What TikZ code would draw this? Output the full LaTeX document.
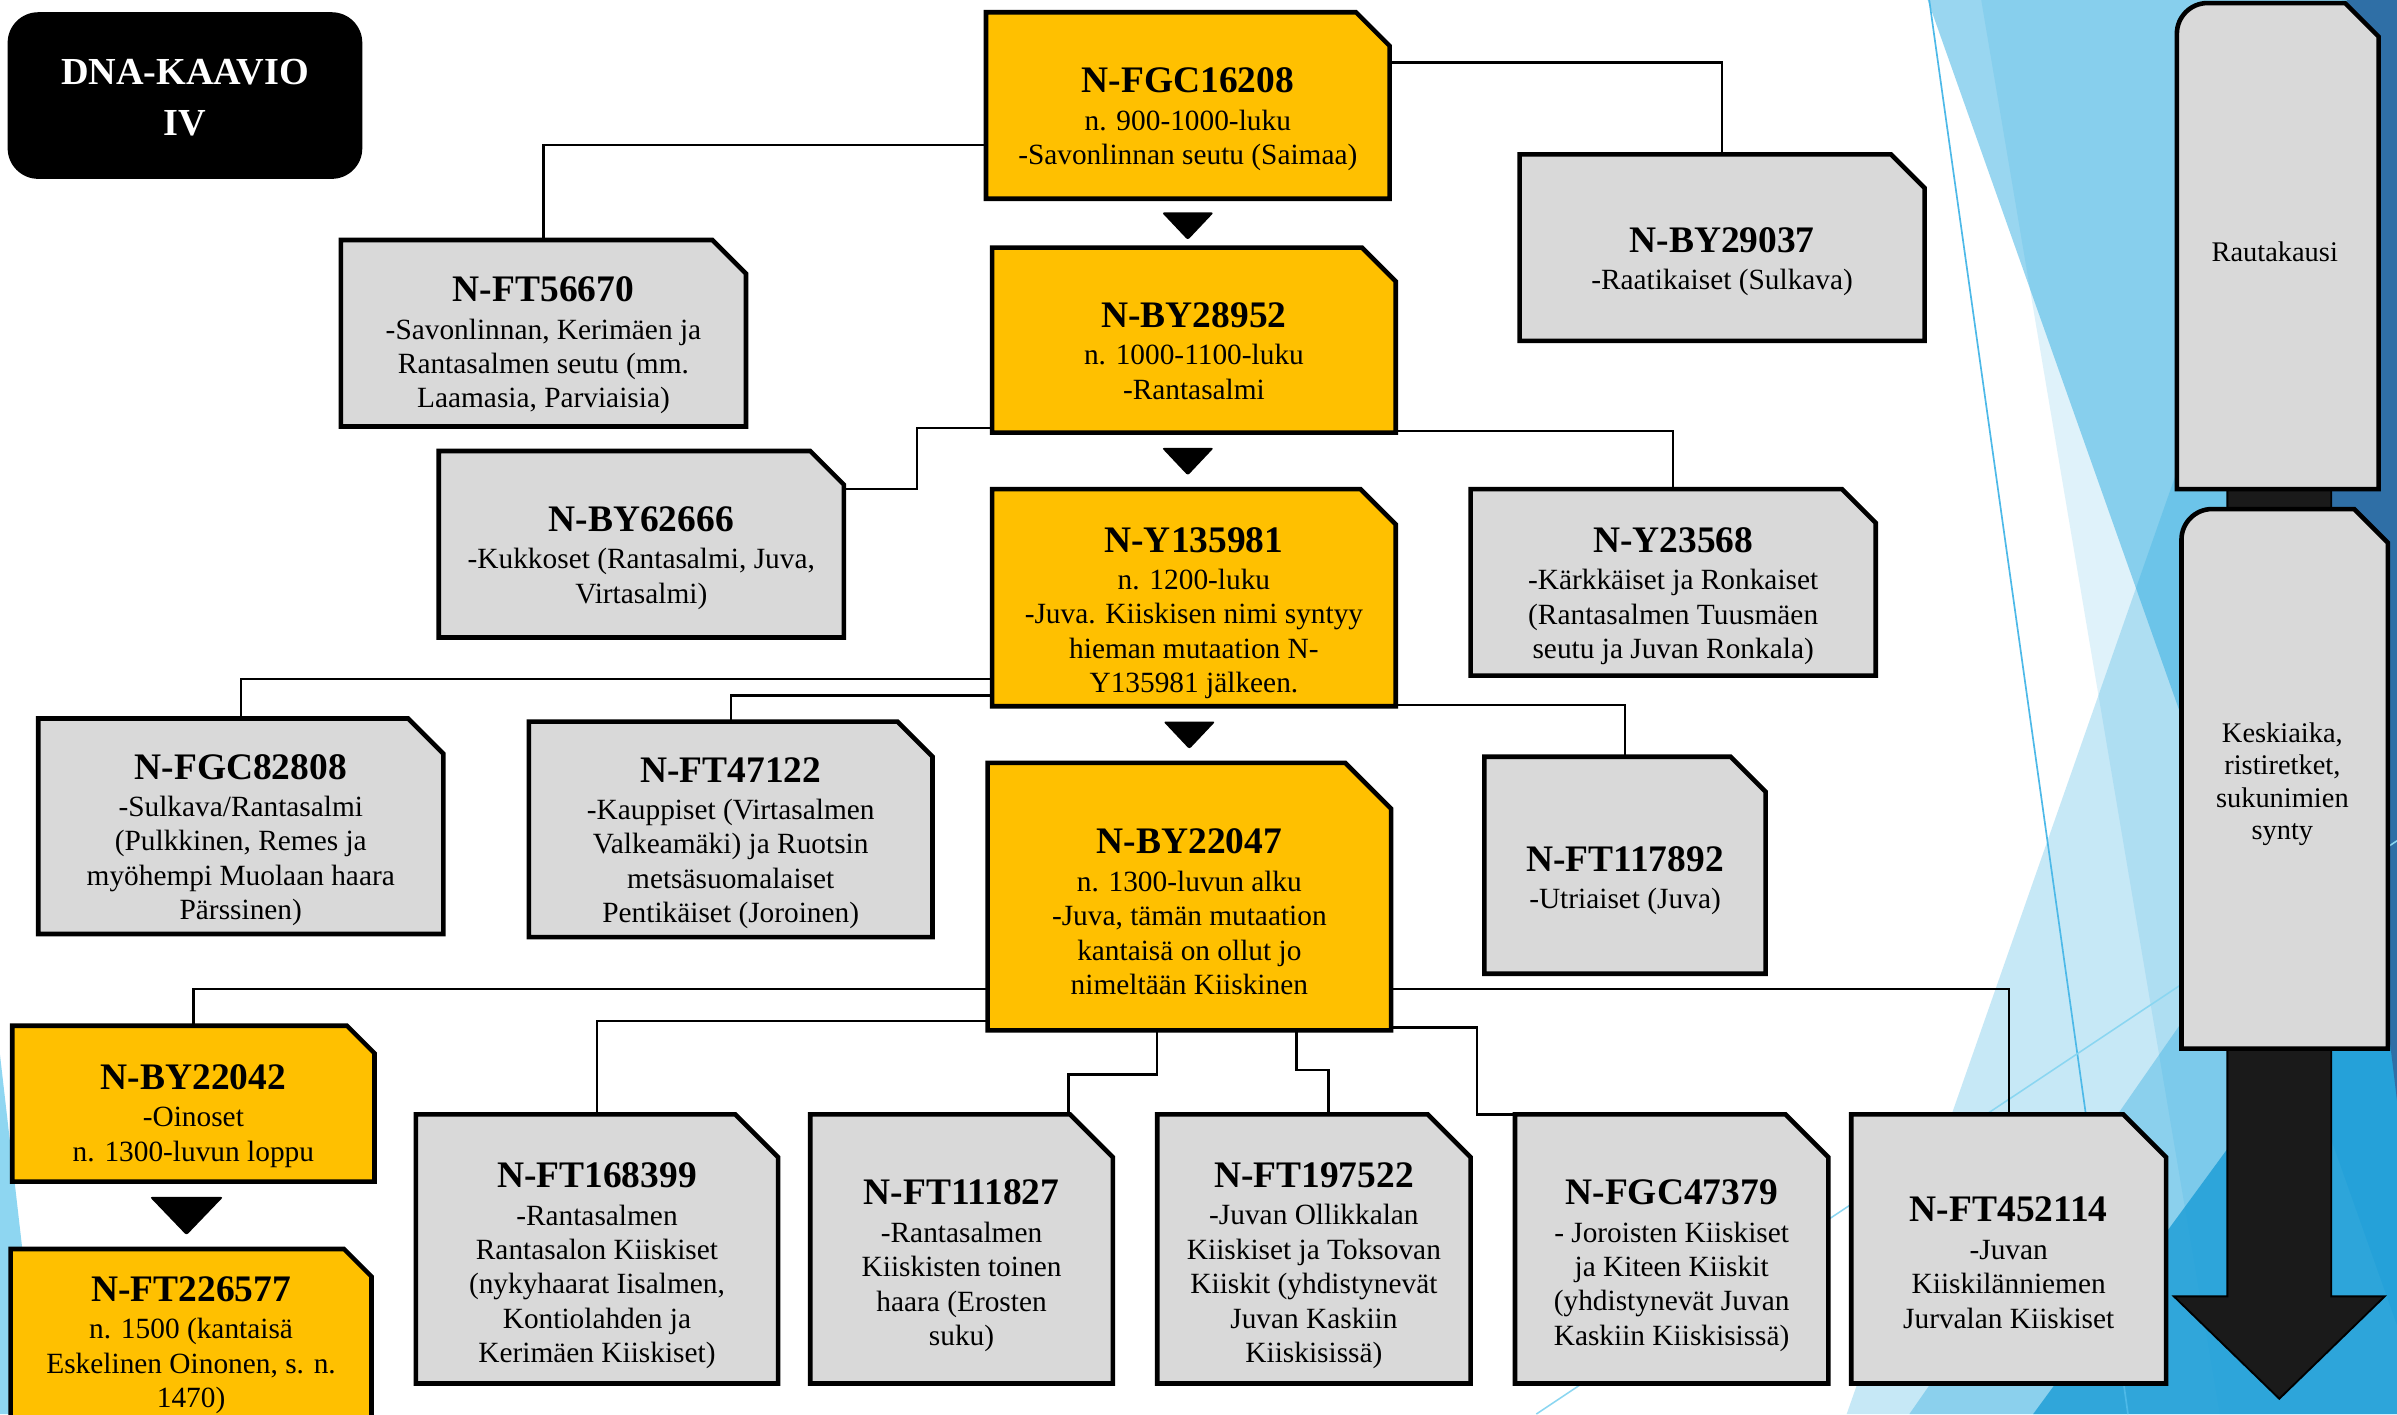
\documentclass[tikz,border=0pt]{standalone}
\usepackage{fontspec}
\setmainfont{Liberation Serif}
\definecolor{yel}{HTML}{FFC000}
\definecolor{greyc}{HTML}{D9D9D9}
\definecolor{arrowc}{HTML}{1A1A1A}
\definecolor{facet}{HTML}{1FA5DE}
\definecolor{facetdeep}{HTML}{1A9CD6}
\definecolor{navy}{HTML}{2F6FA6}
\definecolor{edgeblue}{HTML}{8ED6F1}
\definecolor{thinA}{HTML}{4DB9E8}
\definecolor{thinB}{HTML}{8AD6F1}
\newcommand\idt{\fontsize{24.5}{22.5}\selectfont\bfseries}
% snipped-corner box: name, fill, x1, y1, x2, y2, cut, text, text shift
\newcommand\snipbox[9]{%
  \filldraw[boxline, fill=#2] (#3,#4) -- ({#5-#7},#4) -- (#5,{#4+#7}) -- (#5,#6) -- (#3,#6) -- cycle;
  \node[anchorbox, minimum width={#5-#3}, minimum height={#6-#4}] (#1) at ({(#3+#5)/2},{(#4+#6)/2}) {};
  \node[boxtext] (#1t) at ({(#3+#5)/2},{(#4+#6)/2+#9}) {#8};
}
% era box: rounded top-left, snipped top-right
\newcommand\erabox[5]{%
  \filldraw[boxline, fill=greyc] (#2,#5) -- (#2,{#3+20}) .. controls (#2,{#3+9}) and ({#2+9},#3) .. ({#2+20},#3)
    -- ({#4-22},#3) -- (#4,{#3+22}) -- (#4,#5) -- cycle;
  \node[anchorbox, minimum width={#4-#2}, minimum height={#5-#3}] (#1) at ({(#2+#4)/2},{(#3+#5)/2}) {};
}
\tikzset{
  boxline/.style={draw=black, line width=3pt, line join=miter},
  link/.style={draw=black, line width=1.6pt},
  boxtext/.style={align=center, inner sep=0pt, font=\fontsize{19.2}{22.5}\selectfont},
  eratext/.style={align=center, inner sep=0pt, font=\fontsize{18.6}{21}\selectfont},
  anchorbox/.style={inner sep=0pt, outer sep=0pt, draw=none},
  downtri/.style={fill=black, rounded corners=1.5pt},
}
\begin{document}
\begin{tikzpicture}[x=1pt,y=-1pt]
\useasboundingbox (0,0) rectangle (1568,925);
\clip (0,0) rectangle (1568,925);
\fill[white] (0,0) rectangle (1568,925);

% background facets
\fill[facet, fill opacity=0.45] (1261,0) -- (1568,0) -- (1568,867) -- cycle;
\fill[facet, fill opacity=0.14] (1296,0) -- (1568,0) -- (1568,925) -- (1452,925) -- cycle;
\fill[facet, fill opacity=0.25] (1208,925) -- (1532,0) -- (1568,0) -- (1568,925) -- cycle;
\fill[facet, fill opacity=0.35] (1249,925) -- (1568,466) -- (1568,925) -- cycle;
\fill[facetdeep, fill opacity=0.8] (1330,925) -- (1568,600) -- (1568,925) -- cycle;
\fill[navy] (1535,0) -- (1568,0) -- (1568,720) -- (1522,340) -- cycle;
\fill[edgeblue] (0,690) -- (27,925) -- (0,925) -- cycle;
\draw[thinA, line width=1.1pt] (1262,0) -- (1392,925);
\draw[thinB, line width=1pt] (1005,925) -- (1568,550);

% title
\node[fill=black, rounded corners=20pt, minimum width=232, minimum height=109, inner sep=0pt] (ttl) at (121,62.5) {};
\node[text=white, align=center, inner sep=0pt, font=\fontsize{25}{33}\selectfont\bfseries] (ttlt) at (121,64) {DNA-KAAVIO\\IV};

% main line
\snipbox{fgc162}{yel}{645}{8}{909}{130}{22}{{\idt N-FGC16208}\\[2pt]n. 900-1000-luku\\-Savonlinnan seutu (Saimaa)}{9}
\snipbox{by289}{yel}{649}{162}{913}{283}{22}{{\idt N-BY28952}\\[2pt]n. 1000-1100-luku\\-Rantasalmi}{7}
\snipbox{y135}{yel}{649}{320}{913}{462}{23}{{\idt N-Y135981}\\[2pt]n. 1200-luku\\-Juva. Kiiskisen nimi syntyy\\hieman mutaation N-\\Y135981 jälkeen.}{10}
\snipbox{by220}{yel}{646}{499}{910}{674}{30}{{\idt N-BY22047}\\[2pt]n. 1300-luvun alku\\-Juva, tämän mutaation\\kantaisä on ollut jo\\nimeltään Kiiskinen}{10}
\snipbox{by2042}{yel}{8}{671}{245}{773}{18}{{\idt N-BY22042}\\[2pt]-Oinoset\\n. 1300-luvun loppu}{8}
\snipbox{ft2265}{yel}{7}{817}{243}{931}{18}{{\idt N-FT226577}\\[2pt]n. 1500 (kantaisä\\Eskelinen Oinonen, s. n.\\1470)}{6}

% side branches
\snipbox{ft566}{greyc}{223}{157}{488}{279}{22}{{\idt N-FT56670}\\[2pt]-Savonlinnan, Kerimäen ja\\Rantasalmen seutu (mm.\\Laamasia, Parviaisia)}{8}
\snipbox{by290}{greyc}{994}{101}{1259}{223}{22}{{\idt N-BY29037}\\[2pt]-Raatikaiset (Sulkava)}{9}
\snipbox{by626}{greyc}{287}{295}{552}{417}{22}{{\idt N-BY62666}\\[2pt]-Kukkoset (Rantasalmi, Juva,\\Virtasalmi)}{9}
\snipbox{y235}{greyc}{962}{320}{1227}{442}{22}{{\idt N-Y23568}\\[2pt]-Kärkkäiset ja Ronkaiset\\(Rantasalmen Tuusmäen\\seutu ja Juvan Ronkala)}{9}
\snipbox{fgc828}{greyc}{25}{470}{290}{611}{23}{{\idt N-FGC82808}\\[2pt]-Sulkava/Rantasalmi\\(Pulkkinen, Remes ja\\myöhempi Muolaan haara\\Pärssinen)}{9}
\snipbox{ft471}{greyc}{346}{472}{610}{613}{23}{{\idt N-FT47122}\\[2pt]-Kauppiset (Virtasalmen\\Valkeamäki) ja Ruotsin\\metsäsuomalaiset\\Pentikäiset (Joroinen)}{9}
\snipbox{ft117}{greyc}{971}{495}{1155}{637}{23}{{\idt N-FT117892}\\[2pt]-Utriaiset (Juva)}{10}
\snipbox{ft168}{greyc}{272}{729}{509}{905}{28}{{\idt N-FT168399}\\[2pt]-Rantasalmen\\Rantasalon Kiiskiset\\(nykyhaarat Iisalmen,\\Kontiolahden ja\\Kerimäen Kiiskiset)}{11}
\snipbox{ft111}{greyc}{530}{729}{728}{905}{28}{{\idt N-FT111827}\\[2pt]-Rantasalmen\\Kiiskisten toinen\\haara (Erosten\\suku)}{11}
\snipbox{ft197}{greyc}{757}{729}{962}{905}{28}{{\idt N-FT197522}\\[2pt]-Juvan Ollikkalan\\Kiiskiset ja Toksovan\\Kiiskit (yhdistynevät\\Juvan Kaskiin\\Kiiskisissä)}{11}
\snipbox{fgc473}{greyc}{991}{729}{1196}{905}{28}{{\idt N-FGC47379}\\[2pt]- Joroisten Kiiskiset\\ja Kiteen Kiiskit\\(yhdistynevät Juvan\\Kaskiin Kiiskisissä)}{11}
\snipbox{ft452}{greyc}{1211}{729}{1417}{905}{28}{{\idt N-FT452114}\\[2pt]-Juvan\\Kiiskilänniemen\\Jurvalan Kiiskiset}{9}

% connectors
\draw[link] (fgc162.west |- 0,95) -| (ft566.north);
\draw[link] (fgc162.east |- 0,41) -| (by290.north);
\draw[link] (by289.west |- 0,280) -| (600,320) -- (by626.east |- 0,320);
\draw[link] (by289.east |- 0,282) -| (y235.north);
\draw[link] (y135.west |- 0,444) -| (fgc828.north);
\draw[link] (y135.west |- 0,455) -| (ft471.north);
\draw[link] (y135.east |- 0,461) -| (ft117.north);
\draw[link] (by220.west |- 0,647) -| (by2042.north);
\draw[link] (by220.west |- 0,668) -| (ft168.north);
\draw[link] (by220.south -| 757,0) -- (757,703) -| (ft111.north -| 699,0);
\draw[link] (by220.south -| 848,0) -- (848,700) -| (ft197.north -| 869,0);
\draw[link] (by220.east |- 0,672) -| (966,729) -- (fgc473.north west);
\draw[link] (by220.east |- 0,647) -| (ft452.north);

% descent markers
\fill[downtri] (760,139) -- (794,139) -- (777,157) -- cycle;
\fill[downtri] (760,293) -- (794,293) -- (777,311) -- cycle;
\fill[downtri] (761,472) -- (795,472) -- (778,490) -- cycle;
\fill[downtri] (98,783) -- (146,783) -- (122,808) -- cycle;

% time line
\filldraw[fill=arrowc, draw=black, line width=1.2pt] (1457,300) -- (1525,300) -- (1525,848) -- (1560,848) -- (1491,915) -- (1422,848) -- (1457,848) -- cycle;
\erabox{iron}{1424}{2}{1556}{320}
\node[eratext] (iront) at (1488,165) {Rautakausi};
\erabox{mid}{1427}{333}{1562}{686}
\node[eratext] (midt) at (1493,513) {Keskiaika,\\ristiretket,\\sukunimien\\synty};
\end{tikzpicture}
\end{document}
